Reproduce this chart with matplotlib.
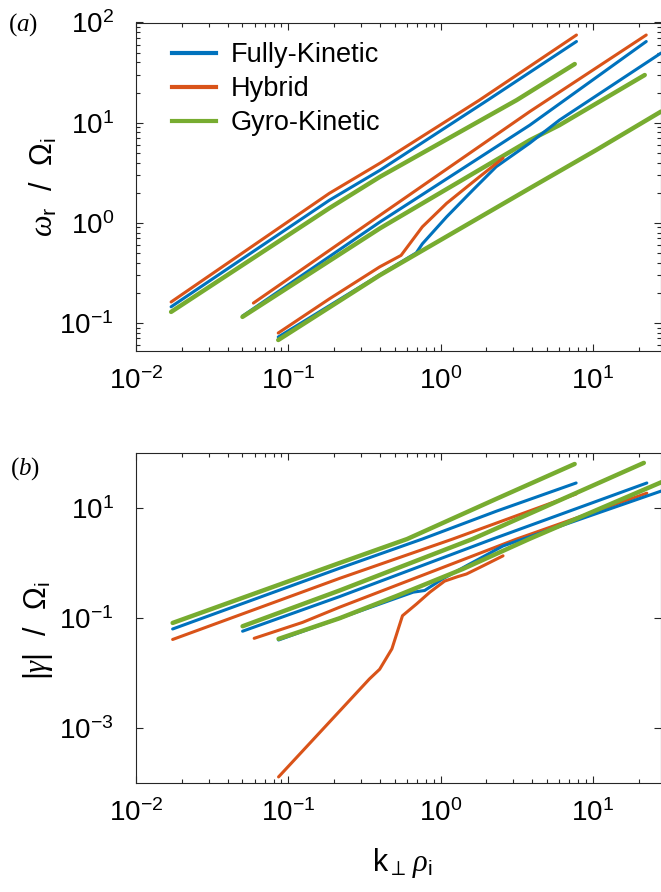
import numpy as np
import matplotlib
matplotlib.use("Agg")
import matplotlib.pyplot as plt
from matplotlib.ticker import LogLocator, NullLocator, NullFormatter

plt.rcParams['font.family'] = 'Liberation Sans'
plt.rcParams['mathtext.fontset'] = 'custom'
plt.rcParams['mathtext.rm'] = 'Liberation Sans'
plt.rcParams['mathtext.it'] = 'Liberation Serif:italic'
plt.rcParams['mathtext.bf'] = 'Liberation Sans:bold'

# %%
# (a) real frequency, three parameter sets (1, 2, 3)
k_a_fk1 = [0.017, 0.186, 0.40, 2.04, 7.8]
w_a_fk1 = [0.145, 1.68, 3.35, 16.8, 64.6]
k_a_hy1 = [0.017, 0.186, 0.40, 1.80, 7.8]
w_a_hy1 = [0.162, 1.97, 3.94, 16.8, 75.0]
k_a_gk1 = [0.017, 0.186, 0.40, 3.16, 7.6]
w_a_gk1 = [0.129, 1.40, 2.88, 16.8, 38.5]

k_a_fk2 = [0.050, 0.40, 3.85, 22.4]
w_a_fk2 = [0.117, 1.02, 9.44, 64.6]
k_a_hy2 = [0.059, 0.40, 3.85, 22.4]
w_a_hy2 = [0.158, 1.19, 12.9, 75.0]
k_a_gk2 = [0.050, 0.40, 3.85, 6.03, 21.9]
w_a_gk2 = [0.115, 0.881, 6.68, 9.44, 29.9]

k_a_fk3 = [0.0859, 0.398, 0.692, 0.759, 1.096, 1.622, 2.317, 3.846, 6.026, 28.0]
w_a_fk3 = [0.0724, 0.302, 0.501, 0.617, 1.148, 2.11, 3.63, 6.24, 10.6, 49.5]
k_a_hy3 = [0.0859, 0.186, 0.398, 0.550, 0.759, 1.096, 1.396, 1.80, 2.57]
w_a_hy3 = [0.0794, 0.174, 0.363, 0.473, 0.912, 1.567, 2.11, 2.88, 4.42]
k_a_gk3 = [0.0859, 0.398, 3.846, 10.47, 28.0]
w_a_gk3 = [0.0676, 0.299, 2.21, 5.31, 12.9]

# (b) damping rate
k_b_fk1 = [0.0174, 0.217, 0.759, 2.34, 7.76]
g_b_fk1 = [0.0631, 0.802, 2.73, 8.81, 28.5]
k_b_hy1 = [0.0174, 0.217, 1.202, 7.76]
g_b_hy1 = [0.0407, 0.525, 2.73, 18.0]
k_b_gk1 = [0.0174, 0.217, 0.603, 2.34, 7.59]
g_b_gk1 = [0.0813, 1.0, 2.73, 14.8, 63.1]

k_b_fk2 = [0.0501, 0.217, 2.20, 22.6]
g_b_fk2 = [0.0575, 0.245, 2.73, 28.5]
k_b_hy2 = [0.0597, 0.124, 0.217, 3.16, 22.6]
g_b_hy2 = [0.0427, 0.0832, 0.157, 2.73, 18.6]
k_b_gk2 = [0.0501, 0.217, 1.622, 21.6]
g_b_gk2 = [0.0708, 0.316, 2.73, 66.1]

k_b_fk3 = [0.0863, 0.186, 0.661, 0.785, 1.03, 1.549, 2.57, 28.2]
g_b_fk3 = [0.0398, 0.0851, 0.295, 0.316, 0.513, 0.955, 2.04, 20.4]
k_b_hy3 = [0.0863, 0.341, 0.398, 0.479, 0.562, 0.692, 0.851, 1.062, 1.288, 1.479, 1.905, 2.57]
g_b_hy3 = [1.29e-4, 7.8e-3, 0.0117, 0.0275, 0.110, 0.178, 0.295, 0.468, 0.562, 0.631, 0.891, 1.35]
k_b_gk3 = [0.0863, 0.217, 0.513, 1.396, 3.846, 28.2]
g_b_gk3 = [0.0417, 0.0989, 0.251, 0.776, 2.754, 29.5]

labels = ["Fully-Kinetic", "Hybrid", "Gyro-Kinetic"]
c_fk, c_hy, c_gk = "#0072BD", "#D95319", "#77AC30"

# %%
fig = plt.figure(figsize=(6.61, 8.92), dpi=100)
axA = fig.add_axes([136/661, 1 - 351/892, 1 - 136/661, (351 - 22.5)/892])
axB = fig.add_axes([136/661, 1 - 783/892, 1 - 136/661, (783 - 453)/892])

def draw_set(ax, fk, hy, gk):
    ax.plot(*fk, color=c_fk, lw=2.2, solid_capstyle="round")
    ax.plot(*hy, color=c_hy, lw=2.2, solid_capstyle="round")
    ax.plot(*gk, color=c_gk, lw=3.2, solid_capstyle="round")

draw_set(axA, (k_a_fk1, w_a_fk1), (k_a_hy1, w_a_hy1), (k_a_gk1, w_a_gk1))
draw_set(axA, (k_a_fk2, w_a_fk2), (k_a_hy2, w_a_hy2), (k_a_gk2, w_a_gk2))
draw_set(axA, (k_a_fk3, w_a_fk3), (k_a_hy3, w_a_hy3), (k_a_gk3, w_a_gk3))

draw_set(axB, (k_b_fk1, g_b_fk1), (k_b_hy1, g_b_hy1), (k_b_gk1, g_b_gk1))
draw_set(axB, (k_b_fk2, g_b_fk2), (k_b_hy2, g_b_hy2), (k_b_gk2, g_b_gk2))
draw_set(axB, (k_b_fk3, g_b_fk3), (k_b_hy3, g_b_hy3), (k_b_gk3, g_b_gk3))

for ax in (axA, axB):
    ax.set_xscale("log")
    ax.set_yscale("log")
    ax.set_xlim(0.01, 28.0)
    ax.xaxis.set_major_locator(LogLocator(base=10, numticks=10))
    ax.xaxis.set_minor_locator(LogLocator(base=10, subs=np.arange(2, 10), numticks=20))
    ax.xaxis.set_minor_formatter(NullFormatter())
    ax.tick_params(which="both", direction="in", top=True, right=True,
                   width=0.8, color="#262626", labelsize=20)
    ax.tick_params(which="major", length=5)
    ax.tick_params(which="minor", length=3)
    ax.tick_params(axis="x", pad=12)
    ax.tick_params(axis="y", pad=16)
    for s in ax.spines.values():
        s.set_color("#262626")
        s.set_linewidth(0.8)

axA.set_ylim(0.0525, 100)
axB.set_ylim(1e-4, 100)
axB.set_yticks([1e-3, 1e-1, 1e1])
axB.yaxis.set_minor_locator(NullLocator())

axA.set_ylabel(r"$\mathit{\omega}_{\mathrm{r}}$  /  $\mathit{\Omega}_{\mathrm{i}}$", fontsize=22)
axA.yaxis.set_label_coords(-0.145, 0.5)
axB.set_ylabel(r"|$\mathit{\gamma}$|  /  $\mathit{\Omega}_{\mathrm{i}}$", fontsize=22)
axB.yaxis.set_label_coords(-0.155, 0.46)
axB.set_xlabel(r"k$_{\perp}\,\mathit{\rho}_{\mathrm{i}}$", fontsize=22)
axB.xaxis.set_label_coords(0.507, -0.19)

leg = axA.legend([plt.Line2D([], [], color=c, lw=3) for c in (c_fk, c_hy, c_gk)],
                 labels, loc="upper left", bbox_to_anchor=(0.069, 0.94),
                 frameon=False, fontsize=19.5, handlelength=1.6,
                 handletextpad=0.55, labelspacing=0.3,
                 borderpad=0, borderaxespad=0)

fig.text(8/661, 1 - 31/892, r"($\mathit{a}$)", family="Liberation Serif", fontsize=18)
fig.text(10/661, 1 - 475/892, r"($\mathit{b}$)", family="Liberation Serif", fontsize=18)

fig.savefig("out.png", dpi=100)
